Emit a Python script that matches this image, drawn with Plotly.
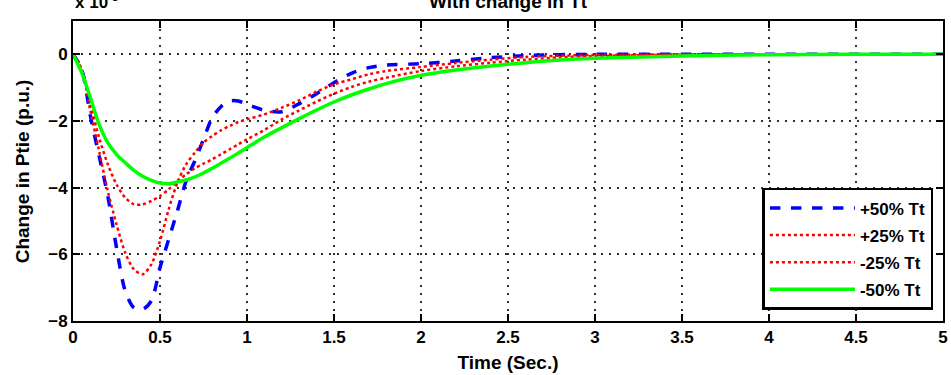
import plotly.graph_objects as go

# Time axis (s)
t = [0, 0.05, 0.1, 0.15, 0.2, 0.25, 0.3, 0.35, 0.4, 0.45, 0.5, 0.55, 0.6, 0.65, 0.7,
     0.75, 0.8, 0.85, 0.9, 0.95, 1.0, 1.1, 1.2, 1.3, 1.4, 1.5, 1.6, 1.7, 1.8, 2.0,
     2.2, 2.4, 2.6, 2.8, 3.0, 3.5, 4.0, 4.5, 5.0]

# Change in Ptie (x 10^-3 p.u.)
plus50 = [0, -0.45, -1.85, -3.05, -4.25, -5.8, -7.1, -7.6, -7.65, -7.4, -6.4, -5.55,
          -4.7, -3.8, -3.2, -2.55, -1.9, -1.57, -1.4, -1.4, -1.5, -1.68, -1.72, -1.48,
          -1.18, -0.85, -0.57, -0.4, -0.32, -0.28, -0.2, -0.1, -0.04, -0.01, 0, 0, 0, 0, 0]
plus25 = [0, -0.45, -1.7, -2.9, -4.1, -5.1, -5.95, -6.45, -6.6, -6.3, -5.6, -4.65,
          -3.85, -3.3, -2.95, -2.65, -2.45, -2.28, -2.15, -2.03, -1.95, -1.8, -1.6,
          -1.38, -1.12, -0.9, -0.75, -0.6, -0.5, -0.38, -0.26, -0.16, -0.08, -0.04,
          -0.02, 0, 0, 0, 0]
minus25 = [0, -0.45, -1.5, -2.5, -3.3, -3.9, -4.3, -4.5, -4.5, -4.4, -4.25, -4.05,
           -3.8, -3.6, -3.42, -3.28, -3.15, -3.0, -2.85, -2.7, -2.55, -2.27, -1.95,
           -1.68, -1.42, -1.18, -0.98, -0.82, -0.7, -0.5, -0.36, -0.25, -0.16, -0.09,
           -0.05, -0.01, 0, 0, 0]
minus50 = [0, -0.55, -1.3, -2.1, -2.65, -3.0, -3.25, -3.48, -3.66, -3.78, -3.86, -3.88,
           -3.83, -3.77, -3.68, -3.56, -3.42, -3.27, -3.12, -2.96, -2.8, -2.48, -2.2,
           -1.93, -1.67, -1.43, -1.22, -1.04, -0.88, -0.63, -0.47, -0.35, -0.25, -0.17,
           -0.12, -0.05, -0.01, 0, 0]

names = ["+50% Tt", "+25% Tt", "-25% Tt", "-50% Tt"]
x_ticks = [0, 0.5, 1, 1.5, 2, 2.5, 3, 3.5, 4, 4.5, 5]
x_tick_labels = ["0", "0.5", "1", "1.5", "2", "2.5", "3", "3.5", "4", "4.5", "5"]
y_ticks = [0, -2, -4, -6, -8]

FONT = "Arial, Liberation Sans, sans-serif"

fig = go.Figure()
styles = [
    dict(color="#0000FF", width=3.5, dash="dash"),
    dict(color="#FF0000", width=2.5, dash="dot"),
    dict(color="#FF0000", width=2.5, dash="dot"),
    dict(color="#00FF00", width=3.5, dash="solid"),
]
for name, ys, st in zip(names, [plus50, plus25, minus25, minus50], styles):
    fig.add_trace(go.Scatter(x=t, y=ys, mode="lines", name=name, legendgroup=name,
                             line=dict(shape="spline", smoothing=0.8, **st)))

axis_common = dict(
    showline=True, linecolor="black", linewidth=2, mirror="ticks",
    ticks="inside", ticklen=7, tickwidth=2, tickcolor="black",
    showgrid=True, gridcolor="#333333", gridwidth=1.5, griddash="2px,6px",
    zeroline=False,
    tickfont=dict(family=FONT, size=17, color="black", weight="bold"),
)

fig.update_xaxes(range=[0, 5], tickvals=x_ticks, ticktext=x_tick_labels,
                 title=dict(text="Time (Sec.)", font=dict(family=FONT, size=19, color="black", weight="bold"),
                            standoff=9),
                 **axis_common)
fig.update_yaxes(range=[-8, 1], tickvals=y_ticks, **axis_common)

fig.update_layout(
    width=951, height=375,
    margin=dict(l=73, r=3, t=21, b=54),
    paper_bgcolor="white", plot_bgcolor="white",
    showlegend=True,
    legend=dict(x=0.989, xanchor="right", y=0.037, yanchor="bottom",
                bgcolor="white", bordercolor="black", borderwidth=2.5,
                font=dict(family=FONT, size=17, color="black", weight="bold"),
                tracegroupgap=2, itemwidth=85),
    annotations=[
        dict(text="With change in Tt", xref="paper", yref="paper", x=0.5, y=1.0 + 20 / 300,
             xanchor="center", yanchor="middle", showarrow=False,
             font=dict(family=FONT, size=19, color="black", weight="bold")),
        dict(text="x 10<sup>-3</sup>", xref="paper", yref="paper", x=0.0, y=1.0 + 20 / 300,
             xanchor="left", yanchor="middle", showarrow=False,
             font=dict(family=FONT, size=17, color="black", weight="bold")),
        dict(text="Change in Ptie (p.u.)", xref="paper", yref="paper",
             x=-(73 - 22) / 875, y=0.5, xanchor="center", yanchor="middle",
             textangle=-90, showarrow=False,
             font=dict(family=FONT, size=19, color="black", weight="bold")),
    ],
)

fig.write_html("out.html")
